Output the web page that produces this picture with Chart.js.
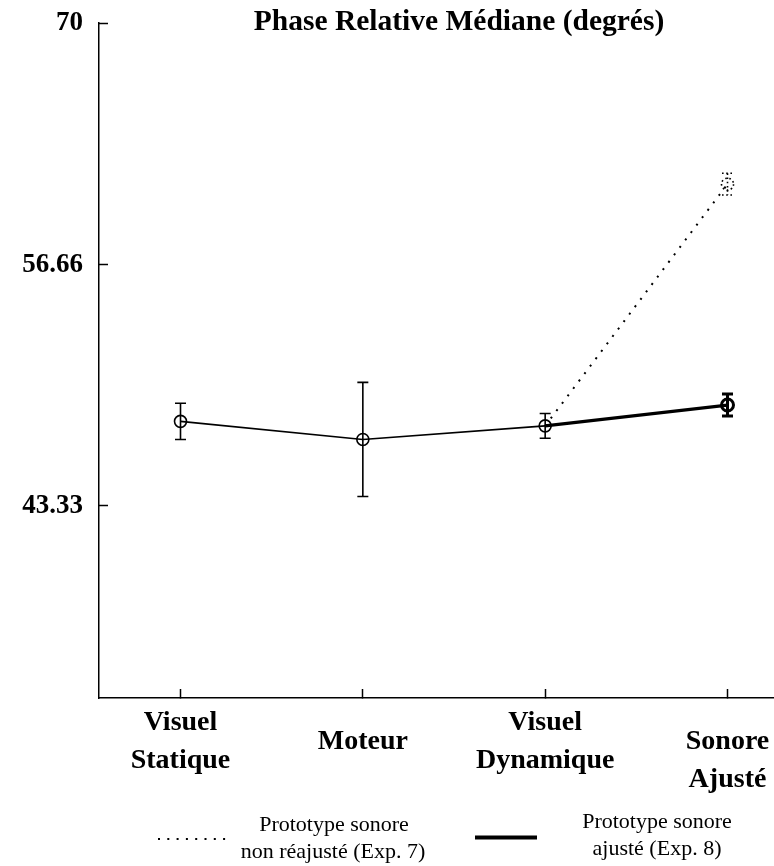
<!DOCTYPE html>
<html>
<head>
<meta charset="utf-8">
<script src="https://cdn.jsdelivr.net/npm/chart.js@4.4.0/dist/chart.umd.min.js"></script>
<style>
  html, body { margin: 0; padding: 0; background: #fff; }
</style>
</head>
<body>
<canvas id="lineChart" width="774" height="866"></canvas>
<script>
var titleText = "Phase Relative Médiane (degrés)"
var categories = [["Visuel", "Statique"], ["Moteur"], ["Visuel", "Dynamique"], ["", "Sonore", "Ajusté"]]
var yTicks = [43.33, 56.66, 70]
var yTickLabels = ["43.33", "56.66", "70"]

// medians and half error bars
var commonValues = [48.0, 47.0, 47.75, null]
var commonErr = [1.0, 3.15, 0.68, null]
var exp8Values = [null, null, 47.75, 48.9]
var exp8Err = [null, null, null, 0.61]
var exp7Values = [null, null, 47.75, 61.1]
var exp7Err = [null, null, null, 0.6]

var legendLabels = [["Prototype sonore", "non réajusté (Exp. 7)"], ["Prototype sonore", "ajusté (Exp. 8)"]]

var serif = '"Liberation Serif", "DejaVu Serif", serif'

function pts(vals){
    return vals.map(function(v, i){ return {x: i, y: v} })
}

// error bars (and the dotted marker of Exp. 7)
var errorBars = {
    id: 'errorBars',
    afterDatasetsDraw: function(chart){
        var ctx = chart.ctx
        var yScale = chart.scales.y
        chart.data.datasets.forEach(function(ds, di){
            var meta = chart.getDatasetMeta(di)
            ds.errors.forEach(function(e, i){
                if (e == null) return
                var pt = meta.data[i]
                var v = ds.data[i].y
                var top = yScale.getPixelForValue(v + e)
                var bot = yScale.getPixelForValue(v - e)
                var cap = 5.5
                ctx.save()
                ctx.strokeStyle = '#000'
                ctx.lineWidth = ds.errWidth
                ctx.setLineDash(ds.errDash || [])
                ctx.beginPath()
                ctx.moveTo(pt.x, top); ctx.lineTo(pt.x, bot)
                ctx.moveTo(pt.x - cap, top); ctx.lineTo(pt.x + cap, top)
                ctx.moveTo(pt.x - cap, bot); ctx.lineTo(pt.x + cap, bot)
                ctx.stroke()
                if (ds.dottedMarker){
                    ctx.beginPath()
                    ctx.arc(pt.x, pt.y, 6, 0, Math.PI * 2)
                    ctx.stroke()
                }
                ctx.restore()
            })
        })
    }
}

var titleAndLegend = {
    id: 'titleAndLegend',
    afterDraw: function(chart){
        var ctx = chart.ctx
        ctx.save()
        ctx.fillStyle = '#000'
        ctx.textAlign = 'center'
        ctx.textBaseline = 'alphabetic'
        ctx.font = 'bold 29.5px ' + serif
        ctx.fillText(titleText, 459, 30)

        // legend samples
        ctx.strokeStyle = '#000'
        ctx.lineWidth = 2
        ctx.setLineDash([2, 7.3])
        ctx.beginPath(); ctx.moveTo(158, 839); ctx.lineTo(228, 839); ctx.stroke()
        ctx.setLineDash([])
        ctx.lineWidth = 4
        ctx.beginPath(); ctx.moveTo(475, 837.5); ctx.lineTo(537, 837.5); ctx.stroke()

        ctx.font = '22px ' + serif
        ctx.fillText(legendLabels[0][0], 334, 831)
        ctx.fillText(legendLabels[0][1], 333, 858)
        ctx.fillText(legendLabels[1][0], 657, 828)
        ctx.fillText(legendLabels[1][1], 657, 855)
        ctx.restore()
    }
}

var ctx = document.getElementById("lineChart").getContext('2d')
var lineChart = new Chart(ctx, {
    type: 'line',
    data: {
        datasets: [
            {
                label: "commun",
                data: pts(commonValues),
                errors: commonErr,
                errWidth: 1.6,
                borderColor: '#000',
                borderWidth: 1.6,
                pointRadius: 6,
                pointBorderWidth: 1.6,
                pointBorderColor: '#000',
                pointBackgroundColor: 'rgba(0,0,0,0)',
                tension: 0
            },
            {
                label: "Exp. 8",
                data: pts(exp8Values),
                errors: exp8Err,
                errWidth: 3,
                borderColor: '#000',
                borderWidth: 3.2,
                pointRadius: [0, 0, 0, 6],
                pointBorderWidth: 3,
                pointBorderColor: '#000',
                pointBackgroundColor: 'rgba(0,0,0,0)',
                tension: 0
            },
            {
                label: "Exp. 7",
                data: pts(exp7Values),
                errors: exp7Err,
                errWidth: 1.6,
                errDash: [1.6, 2.6],
                dottedMarker: true,
                borderColor: '#000',
                borderWidth: 2,
                borderDash: [2, 7.3],
                pointRadius: 0,
                tension: 0
            }
        ]
    },
    options: {
        responsive: false,
        animation: false,
        layout: { autoPadding: false, padding: { top: 23, left: 0, right: 0, bottom: 68 } },
        plugins: {
            legend: { display: false },
            tooltip: { enabled: false },
            title: { display: false }
        },
        scales: {
            x: {
                type: 'linear',
                min: -0.447,
                max: 3.255,
                afterBuildTicks: function(s){
                    s.ticks = categories.map(function(c, i){ return {value: i} })
                },
                ticks: {
                    callback: function(v){ return categories[v] },
                    autoSkip: false,
                    maxRotation: 0,
                    crossAlign: 'center',
                    padding: 14.3,
                    color: '#000',
                    font: { family: serif, size: 28, weight: 'bold', lineHeight: 1.36 }
                },
                grid: { drawOnChartArea: false, tickLength: -9, tickWidth: 1.5, tickColor: '#000' },
                border: { color: '#000', width: 1.5 },
                afterFit: function(s){ s.height = 100; s.paddingLeft = 0; s.paddingRight = 0 }
            },
            y: {
                min: 32.72,
                max: 70,
                afterBuildTicks: function(s){
                    s.ticks = yTicks.map(function(v){ return {value: v} })
                },
                ticks: {
                    callback: function(v){ return yTickLabels[yTicks.indexOf(v)] },
                    padding: 25,
                    color: '#000',
                    font: { family: serif, size: 27, weight: 'bold' }
                },
                grid: { drawOnChartArea: false, tickLength: -9, tickWidth: 1.5, tickColor: '#000' },
                border: { color: '#000', width: 1.5 },
                afterFit: function(s){ s.width = 99; s.paddingTop = 0; s.paddingBottom = 0 }
            }
        }
    },
    plugins: [errorBars, titleAndLegend]
})
</script>
</body>
</html>
